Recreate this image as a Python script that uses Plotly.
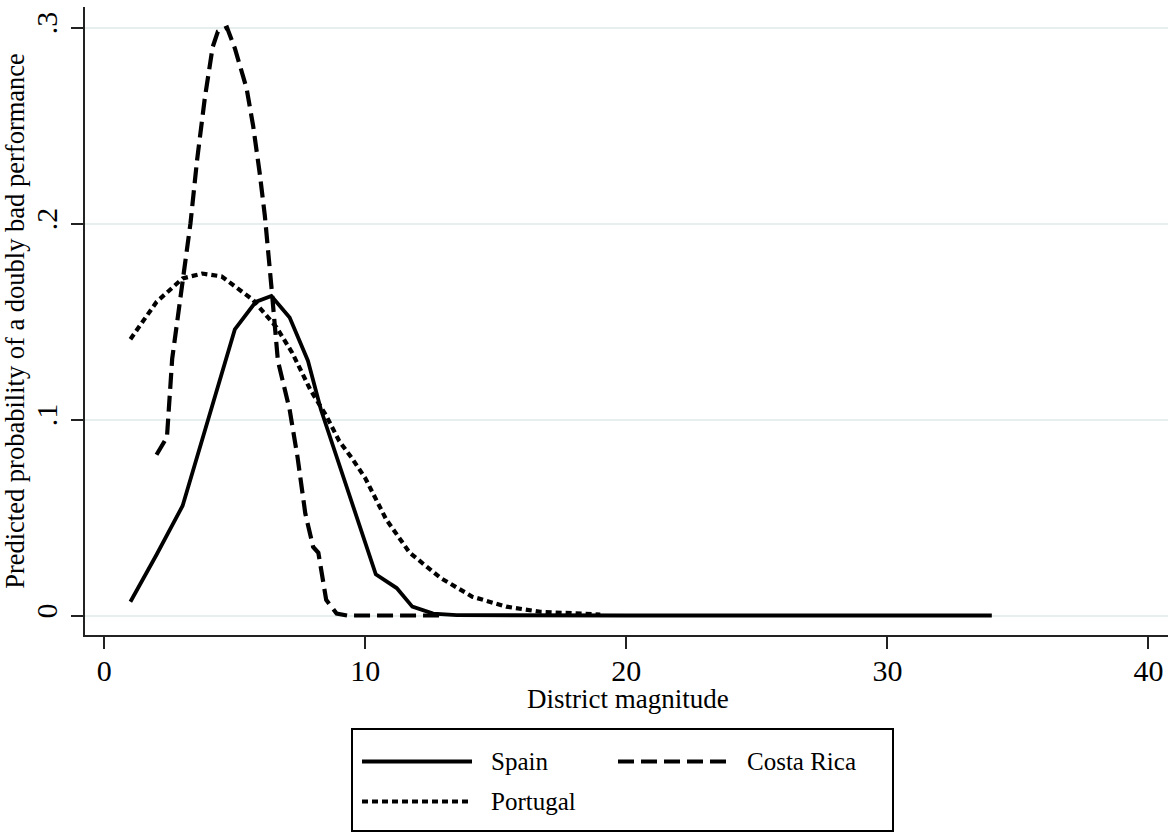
import plotly.graph_objects as go

# ---- data ----
spain_x = [1, 2, 3, 5, 5.8, 6.4, 7.1, 7.8, 8.3, 10.4, 11.2, 11.8, 12.6, 13.5, 20, 34]
spain_y = [0.007, 0.031, 0.056, 0.146, 0.160, 0.163, 0.152, 0.130, 0.105, 0.021, 0.014, 0.0045, 0.001, 0.0002, 0.0, 0.0]

costa_x = [2.0, 2.4, 2.6, 3.0, 3.3, 3.55, 3.85, 4.15, 4.35, 4.7, 5.0, 5.45, 5.7, 5.95, 6.15, 6.4,
           6.65, 7.1, 7.4, 7.7, 8.0, 8.2, 8.5, 8.9, 9.3, 13.0]
costa_y = [0.082, 0.091, 0.131, 0.171, 0.200, 0.232, 0.264, 0.290, 0.298, 0.300, 0.2895, 0.269, 0.250,
           0.226, 0.204, 0.168, 0.130, 0.105, 0.081, 0.052, 0.035, 0.032, 0.008, 0.001, 0.0, 0.0]

portugal_x = [1, 2, 3, 3.75, 4.5, 5, 5.7, 6.6, 7.2, 7.9, 8.5, 9, 9.5, 10, 10.8, 11.7, 12.9, 14.1,
              15.4, 16.7, 18, 19]
portugal_y = [0.141, 0.160, 0.172, 0.1745, 0.173, 0.168, 0.161, 0.147, 0.134, 0.115, 0.102, 0.089,
              0.080, 0.070, 0.049, 0.032, 0.019, 0.0096, 0.0045, 0.0019, 0.001, 0.0005]

series_names = ["Spain", "Costa Rica", "Portugal"]
x_ticks = [0, 10, 20, 30, 40]
y_ticks = [0, 0.1, 0.2, 0.3]
y_tick_labels = ["0", ".1", ".2", ".3"]
x_title = "District magnitude"
y_title = "Predicted probability of a doubly bad performance"

FONT = "Liberation Serif"
dashes = {"Spain": "solid", "Costa Rica": "16px,7px", "Portugal": "6px,4px"}
widths = {"Spain": 3.8, "Costa Rica": 4.2, "Portugal": 4.2}

fig = go.Figure()
for name, xs, ys in [("Spain", spain_x, spain_y), ("Costa Rica", costa_x, costa_y),
                     ("Portugal", portugal_x, portugal_y)]:
    fig.add_trace(go.Scatter(x=xs, y=ys, mode="lines", name=name,
                             line=dict(color="black", width=widths[name], dash=dashes[name])))

# ---- layout geometry (pixels) ----
W, H = 1171, 832
L, R, T, B = 85, 3, 7, 197
pw, ph = W - L - R, H - T - B


def px2paper(px, py):
    return (px - L) / pw, (H - B - py) / ph


axis_common = dict(showline=True, linecolor="#222", linewidth=2, ticks="outside", ticklen=12,
                   tickwidth=2, tickcolor="#222", zeroline=False,
                   tickfont=dict(family=FONT, size=30, color="black"))

fig.update_layout(
    width=W, height=H,
    margin=dict(l=L, r=R, t=T, b=B, autoexpand=False),
    paper_bgcolor="white", plot_bgcolor="white",
    showlegend=False,
    xaxis=dict(range=[-0.74, 40.75], tickvals=x_ticks, showgrid=False,
               ticklabelstandoff=-4, **axis_common),
    yaxis=dict(range=[-0.00995, 0.3105], tickvals=y_ticks, ticktext=y_tick_labels, tickangle=-90,
               showgrid=True, gridcolor="#e6eeee", gridwidth=2, ticklabelstandoff=2,
               title=dict(text=y_title, font=dict(family=FONT, size=26.5, color="black"), standoff=7),
               **axis_common),
)

shapes = []
annotations = []

# x-axis title placed just under the tick labels
tx, ty = px2paper(628, 699)
annotations.append(dict(xref="paper", yref="paper", x=tx, y=ty, text=x_title, showarrow=False,
                        xanchor="center", yanchor="middle",
                        font=dict(family=FONT, size=27, color="black")))

# ---- legend box drawn below the plot ----
bx0, by0 = px2paper(352, 831)
bx1, by1 = px2paper(893, 729)
shapes.append(dict(type="rect", xref="paper", yref="paper", x0=bx0, y0=by0, x1=bx1, y1=by1,
                   line=dict(color="black", width=2), fillcolor="white", layer="above"))
slots = {"Spain": (362, 761.5), "Costa Rica": (618, 761.5), "Portugal": (362, 801.5)}
for name in series_names:
    sx, sy = slots[name]
    x0, y0 = px2paper(sx, sy)
    x1, _ = px2paper(sx + 110, sy)
    shapes.append(dict(type="line", xref="paper", yref="paper", x0=x0, x1=x1, y0=y0, y1=y0,
                       line=dict(color="black", width=widths[name], dash=dashes[name])))
    lx, _ = px2paper(sx + 127, sy)
    annotations.append(dict(xref="paper", yref="paper", x=lx, y=y0, text=name, showarrow=False,
                            xanchor="left", yanchor="middle",
                            font=dict(family=FONT, size=25, color="black")))
fig.update_layout(shapes=shapes, annotations=annotations)

fig.write_html("out.html")
